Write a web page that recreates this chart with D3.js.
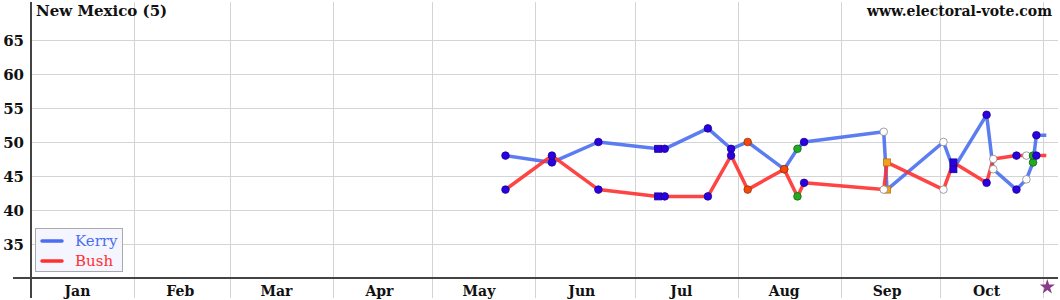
<!DOCTYPE html>
<html>
<head>
<meta charset="utf-8">
<script src="https://cdn.jsdelivr.net/npm/d3@7"></script>
<style>
  body { margin: 0; background: #fff; }
  text { font-family: "DejaVu Serif", "Liberation Serif", serif; font-weight: bold; }
</style>
</head>
<body>
<div id="chart"></div>
<script>
// poll dates (2004) and results
var pollDates = ['2004-05-23', '2004-06-06', '2004-06-20', '2004-07-08', '2004-07-10', '2004-07-23',
    '2004-07-30', '2004-08-04', '2004-08-15', '2004-08-19', '2004-08-21', '2004-09-14', '2004-09-15',
    '2004-10-02', '2004-10-05', '2004-10-15', '2004-10-17', '2004-10-24', '2004-10-27', '2004-10-29',
    '2004-10-30'];
var kerry = [48, 47, 50, 49, 49, 52, 49, 50, 46, 49, 50, 51.5, 43, 50, 46, 54, 46, 43, 44.5, 47, 51];
var bush  = [43, 48, 43, 42, 42, 42, 48, 43, 46, 42, 44, 43, 47, 43, 47, 44, 47.5, 48, 48, 48, 48];
// marker kind per poll (pollster)
var markers = ['dot', 'dot', 'dot', 'sq', 'dot', 'dot', 'dot', 'orange', 'orange', 'green', 'dot',
    'open', 'osq', 'open', 'sq', 'dot', 'open', 'dot', 'open', 'green', 'dot'];

var months = ['Jan', 'Feb', 'Mar', 'Apr', 'May', 'Jun', 'Jul', 'Aug', 'Sep', 'Oct'];
var yTicks = [35, 40, 45, 50, 55, 60, 65];
var electionDay = '2004-11-02';

var width = 1060, height = 300;
var parse = d3.timeParse('%Y-%m-%d');

var x = d3.scaleTime()
    .domain([parse('2004-01-01'), parse('2004-11-01')])
    .range([31, 1043]);
var y = d3.scaleLinear()
    .domain([30, 70])
    .range([278, 6]);

var svg = d3.select('#chart')
    .append('svg')
    .attr('width', width)
    .attr('height', height);

svg.append('rect').attr('width', width).attr('height', height).attr('fill', '#fff');

// grid
var monthStarts = d3.timeMonth.range(parse('2004-02-01'), parse('2004-11-02'));
svg.append('g')
    .selectAll('line')
    .data(monthStarts)
    .enter()
    .append('line')
    .attr('x1', (d) => Math.round(x(d)) + 0.5)
    .attr('x2', (d) => Math.round(x(d)) + 0.5)
    .attr('y1', 2)
    .attr('y2', 298)
    .attr('stroke', '#d4d4d4')
    .attr('stroke-width', 1);

svg.append('g')
    .selectAll('line')
    .data(yTicks)
    .enter()
    .append('line')
    .attr('x1', 31)
    .attr('x2', 1058)
    .attr('y1', (d) => Math.round(y(d)) + 0.5)
    .attr('y2', (d) => Math.round(y(d)) + 0.5)
    .attr('stroke', '#d4d4d4')
    .attr('stroke-width', 1);

// axes
svg.append('line')
    .attr('x1', 31).attr('x2', 31)
    .attr('y1', 2).attr('y2', 298)
    .attr('stroke', '#444').attr('stroke-width', 2);
svg.append('line')
    .attr('x1', 13).attr('x2', 1058)
    .attr('y1', y(30)).attr('y2', y(30))
    .attr('stroke', '#444').attr('stroke-width', 2);

svg.append('g')
    .selectAll('text')
    .data(yTicks)
    .enter()
    .append('text')
    .attr('x', 24)
    .attr('y', (d) => y(d) + 6)
    .attr('text-anchor', 'end')
    .attr('font-size', 15)
    .attr('fill', '#111')
    .text((d) => d);

svg.append('g')
    .selectAll('text')
    .data(months)
    .enter()
    .append('text')
    .attr('x', (d, i) => x(new Date(2004, i, 15)))
    .attr('y', 296)
    .attr('text-anchor', 'middle')
    .attr('font-size', 14)
    .attr('fill', '#111')
    .text((d) => d);

// titles
svg.append('text')
    .attr('x', 36).attr('y', 16)
    .attr('font-size', 15)
    .attr('fill', '#111')
    .text('New Mexico (5)');
svg.append('text')
    .attr('x', 1052).attr('y', 16)
    .attr('text-anchor', 'end')
    .attr('font-size', 14)
    .attr('fill', '#111')
    .text('www.electoral-vote.com');

// series
var dates = pollDates.map(parse);
function seriesPoints(vals) {
    var pts = dates.map((d, i) => [d, vals[i]]);
    pts.push([parse(electionDay), vals[vals.length - 1]]);
    return pts;
}
var line = d3.line()
    .x((d) => x(d[0]))
    .y((d) => y(d[1]));

svg.append('path')
    .datum(seriesPoints(kerry))
    .attr('d', line)
    .attr('fill', 'none')
    .attr('stroke', '#4a6ef0')
    .attr('stroke-opacity', 0.9)
    .attr('stroke-width', 3.5)
    .attr('stroke-linejoin', 'round');
svg.append('path')
    .datum(seriesPoints(bush))
    .attr('d', line)
    .attr('fill', 'none')
    .attr('stroke', '#ff3030')
    .attr('stroke-opacity', 0.9)
    .attr('stroke-width', 3.5)
    .attr('stroke-linejoin', 'round');

var markFill = { dot: '#2a00e0', sq: '#2a00e0', orange: '#f04a10', green: '#22aa22', open: '#fff', osq: '#f0a020' };
var markStroke = { dot: '#1a0090', sq: '#1a0090', orange: '#a03000', green: '#116611', open: '#888', osq: '#c07000' };

function drawMarks(vals) {
    var g = svg.append('g');
    vals.forEach(function (v, i) {
        var k = markers[i];
        var cx = x(dates[i]), cy = y(v);
        if (k === 'sq' || k === 'osq') {
            g.append('rect')
                .attr('x', cx - 3.5).attr('y', cy - 3.5)
                .attr('width', 7).attr('height', 7)
                .attr('fill', markFill[k])
                .attr('stroke', markStroke[k]).attr('stroke-width', 0.8);
        } else {
            g.append('circle')
                .attr('cx', cx).attr('cy', cy).attr('r', 3.8)
                .attr('fill', markFill[k])
                .attr('stroke', markStroke[k]).attr('stroke-width', 0.8);
        }
    });
}
drawMarks(kerry);
drawMarks(bush);

// election day star
svg.append('path')
    .attr('d', d3.symbol().type(d3.symbolStar).size(70))
    .attr('transform', 'translate(' + (x(parse(electionDay)) + 1) + ',287)')
    .attr('fill', '#8a3a8a');

// legend
var legend = svg.append('g');
legend.append('rect')
    .attr('x', 35.5).attr('y', 228.5)
    .attr('width', 87).attr('height', 43)
    .attr('fill', '#f5f5ff')
    .attr('stroke', '#aaa');
var legendItems = [['Kerry', '#4a6ef0'], ['Bush', '#ff3030']];
legendItems.forEach(function (d, i) {
    legend.append('line')
        .attr('x1', 42).attr('x2', 62)
        .attr('y1', 241 + i * 20).attr('y2', 241 + i * 20)
        .attr('stroke', d[1]).attr('stroke-width', 3.5)
        .attr('stroke-linecap', 'round');
    legend.append('text')
        .attr('x', 75).attr('y', 246 + i * 20)
        .style('font-family', '"DejaVu Serif", serif')
        .style('font-size', '15px')
        .style('font-weight', '500')
        .attr('fill', d[1])
        .text(d[0]);
});
</script>
</body>
</html>
